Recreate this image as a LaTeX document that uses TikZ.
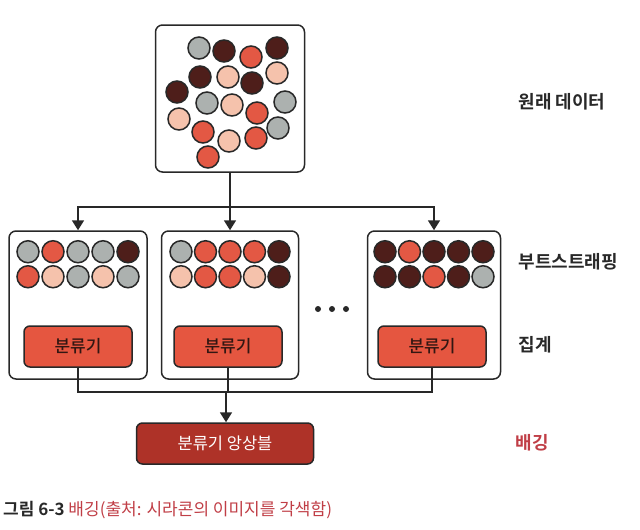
\documentclass[tikz,border=0pt]{standalone}
\usepackage{fontspec}
\usepackage{tikz}
\usetikzlibrary{arrows.meta, positioning, calc}
\setmainfont{Noto Sans CJK KR}[BoldFont={Noto Sans CJK KR Bold}]
\newfontfamily\krmed{Noto Sans CJK KR Medium}
\definecolor{ballgray}{RGB}{172,177,175}
\definecolor{balldark}{RGB}{78,30,26}
\definecolor{ballred}{RGB}{227,88,68}
\definecolor{ballpeach}{RGB}{245,194,172}
\definecolor{clsred}{RGB}{229,86,64}
\definecolor{clstext}{RGB}{50,22,18}
\definecolor{ensred}{RGB}{174,50,40}
\definecolor{bagred}{RGB}{192,62,70}
\definecolor{linegray}{RGB}{40,40,40}

\begin{document}
\begin{tikzpicture}[x=1pt,y=-1pt,
    ball/.style={circle,draw=linegray,line width=1.5pt,minimum size=22pt,inner sep=0pt},
    frame/.style={rectangle,draw=linegray,fill=white,rounded corners=7pt,line width=1.5pt},
    clsbox/.style={rectangle,draw=linegray,fill=clsred,rounded corners=6pt,line width=1.5pt,minimum width=108pt,minimum height=41pt,font=\krmed\fontsize{17}{20}\selectfont,text=clstext},
    conn/.style={draw=linegray,line width=1.8pt},
    arr/.style={conn,-{Triangle[width=12pt,length=10pt]}},
    lbl/.style={anchor=west,font=\bfseries\fontsize{18}{21}\selectfont,text=linegray}]
    \useasboundingbox (0,0) rectangle (640,530);

    % dati originali
    \node[frame,minimum width=149pt,minimum height=147pt] (data) at (230,98.5) {};
    \foreach \x/\y/\c [count=\i] in {199/48/ballgray,224/51/balldark,251/57/ballred,277/48/balldark,
        200/77/balldark,228/77/ballpeach,252/83/balldark,277/73/ballpeach,
        177/92/balldark,207/103/ballgray,232/105/ballpeach,285/102/ballgray,
        257/113/ballred,179/119/ballpeach,203/132/ballred,278/128/ballgray,
        229/141/ballpeach,256/138/ballred,208/157/ballred}
        \node[ball,fill=\c] (d\i) at (\x,\y) {};
    \node[lbl] (lorig) at (515,102) {원래 데이터};

    % bootstrap
    \node[frame,minimum width=138pt,minimum height=148pt] (b1) at (78,305) {};
    \node[frame,minimum width=137pt,minimum height=148pt] (b2) at (230,305) {};
    \node[frame,minimum width=133pt,minimum height=148pt] (b3) at (434,305) {};
    \foreach \c [count=\i] in {ballgray,ballred,ballgray,ballgray,balldark}
        \node[ball,fill=\c] (ba\i) at ($(b1.north)+(\i*25-75,21.5)$) {};
    \foreach \c [count=\i] in {ballred,ballpeach,ballgray,ballpeach,ballgray}
        \node[ball,fill=\c] (bb\i) at ($(b1.north)+(\i*25-75,46.5)$) {};
    \foreach \c [count=\i] in {ballgray,ballred,ballred,ballred,balldark}
        \node[ball,fill=\c] (ca\i) at ($(b2.north)+(\i*24.5-73.5,21.5)$) {};
    \foreach \c [count=\i] in {ballpeach,ballred,ballred,ballpeach,balldark}
        \node[ball,fill=\c] (cb\i) at ($(b2.north)+(\i*24.5-73.5,46.5)$) {};
    \foreach \c [count=\i] in {balldark,ballred,balldark,balldark,balldark}
        \node[ball,fill=\c] (ea\i) at ($(b3.north)+(\i*24.5-73.5,21.5)$) {};
    \foreach \c [count=\i] in {balldark,balldark,ballred,balldark,ballgray}
        \node[ball,fill=\c] (eb\i) at ($(b3.north)+(\i*24.5-73.5,46.5)$) {};
    \foreach \x [count=\i] in {318,332,346}
        \node[circle,fill=linegray,inner sep=0pt,minimum size=6pt] (dot\i) at (\x,309) {};
    \node[lbl] (lboot) at (515,262) {부트스트래핑};

    % classificatori
    \node[clsbox] (c1) at (78,346.5) {분류기};
    \node[clsbox] (c2) at (228,346.5) {분류기};
    \node[clsbox] (c3) at (432,346.5) {분류기};
    \node[lbl] (lagg) at (515,345) {집계};

    % ensemble
    \node[rectangle,draw=linegray,fill=ensred,rounded corners=6pt,line width=1.5pt,minimum width=177pt,minimum height=41pt,
        font=\fontsize{16.5}{19}\selectfont,text=white] (ens) at (225,443.5) {분류기 앙상블};
    \node[lbl,text=bagred] (lbag) at (512,443) {배깅};

    % connessioni
    \coordinate (split) at (230,207);
    \coordinate (join) at (226,392);
    \draw[conn] (data.south) -- (split);
    \draw[arr] (split) -| (b1.north);
    \draw[arr] (split) -- (b2.north);
    \draw[arr] (split) -| (b3.north);
    \draw[conn] (c1.south) |- (join);
    \draw[conn] (c3.south) |- (join);
    \draw[conn] (c2.south) -- (c2.south |- join);
    \draw[arr] (join) -- (join |- ens.north);

    % didascalia
    \node[anchor=west,inner sep=0pt,font=\fontsize{17}{20}\selectfont] (cap) at (3,510)
        {\textbf{\color{linegray}그림 6-3} \color{bagred}배깅(출처: 시라콘의 이미지를 각색함)};
\end{tikzpicture}
\end{document}
